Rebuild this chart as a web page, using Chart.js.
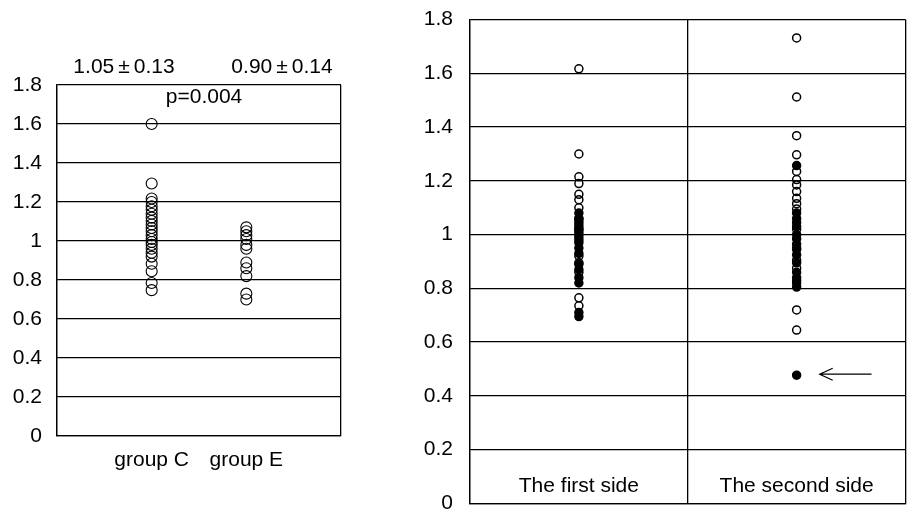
<!DOCTYPE html>
<html lang="en">
<head>
  <meta charset="UTF-8" />
  <title>Ratio scatter</title>
  <script src="https://cdn.jsdelivr.net/npm/chart.js"></script>
  <style>
    body { margin: 0; background: #fff; }
    .wrap { position: relative; width: 907px; height: 509px; overflow: hidden; }
    #left { position: absolute; left: 0; top: 0; }
    #right { position: absolute; left: 380px; top: -10px; }
  </style>
</head>
<body>
  <div class="wrap">
    <canvas id="left" width="360" height="509"></canvas>
    <canvas id="right" width="531" height="543"></canvas>
  </div>
  <script>
    const yTicks = ["0", "0.2", "0.4", "0.6", "0.8", "1", "1.2", "1.4", "1.6", "1.8"];

    // left panel
    const groups = ["group C", "group E"];
    const groupStats = [["1.05", "\u00b1", "0.13"], ["0.90", "\u00b1", "0.14"]];
    const pText = "p=0.004";
    const groupC = [1.6, 1.295, 1.218, 1.2, 1.178, 1.16, 1.14, 1.12, 1.103, 1.085, 1.067, 1.05,
                    1.03, 1.01, 0.995, 0.98, 0.96, 0.94, 0.92, 0.883, 0.845, 0.785, 0.748];
    const groupE = [1.07, 1.05, 1.03, 1.01, 0.98, 0.96, 0.89, 0.86, 0.82, 0.73, 0.70];

    // right panel
    const sides = ["The first side", "The second side"];
    const firstOpen = [1.617, 1.30, 1.215, 1.19, 1.15, 1.13, 1.10, 1.06, 1.02, 0.98, 0.92, 0.895, 0.86, 0.765, 0.735];
    const firstFilled = [1.08, 1.06, 1.05, 1.04, 1.03, 1.02, 1.01, 1.00, 0.99, 0.97, 0.95, 0.93, 0.89, 0.87, 0.84, 0.82, 0.71, 0.695];
    const secondOpen = [1.732, 1.512, 1.368, 1.297, 1.235, 1.205, 1.185, 1.16, 1.135, 1.115, 1.095, 1.02,
                        0.945, 0.905, 0.875, 0.83, 0.72, 0.645];
    const secondFilled = [1.257, 1.08, 1.06, 1.045, 1.03, 1.0, 0.985, 0.965, 0.95, 0.925, 0.895, 0.86, 0.84, 0.82, 0.805, 0.477];
    const arrowValue = 0.477;

    const FONT = { family: "'Liberation Sans', Arial, sans-serif", size: 21 };
    const INK = "#000";

    const pts = (x, arr) => arr.map(v => ({ x: x, y: v }));

    function yAxis(width, pad) {
      return {
        min: 0, max: 1.8,
        afterFit: s => { s.width = width; },
        afterBuildTicks: s => { s.ticks = yTicks.map((t, i) => ({ value: i * 0.2 })); },
        ticks: { padding: pad, color: INK, font: FONT, callback: (v, i) => yTicks[i] },
        grid: { color: INK, lineWidth: 1.3, drawTicks: false },
        border: { display: true, color: INK, width: 1.3 }
      };
    }

    // draws "a ± b" with a little air round the ±, centred on cx
    function spacedText(c, parts, cx, y, gap) {
      const w = parts.map(p => c.measureText(p).width);
      const total = w.reduce((a, b) => a + b, 0) + gap * (parts.length - 1);
      let x = cx - total / 2;
      c.textAlign = "left";
      parts.forEach((p, i) => { c.fillText(p, x, y); x += w[i] + gap; });
    }

    const leftText = {
      id: "leftText",
      afterDraw(chart) {
        const c = chart.ctx;
        c.save();
        c.fillStyle = INK;
        c.font = "21px " + FONT.family;
        c.textBaseline = "alphabetic";
        spacedText(c, groupStats[0], 124, 73, 4);
        spacedText(c, groupStats[1], 282, 73, 4);
        c.textAlign = "center";
        c.fillText(pText, 204, 103);
        c.restore();
      }
    };

    new Chart(document.getElementById("left"), {
      type: "scatter",
      data: {
        datasets: [
          { data: pts(1, groupC), pointRadius: 5.5, borderWidth: 1.1, borderColor: INK, backgroundColor: "transparent" },
          { data: pts(2, groupE), pointRadius: 5.5, borderWidth: 1.1, borderColor: INK, backgroundColor: "transparent" }
        ]
      },
      options: {
        responsive: false, animation: false,
        layout: { padding: { top: 85, right: 19, left: 0, bottom: 0 } },
        plugins: { legend: { display: false }, tooltip: { enabled: false } },
        scales: {
          x: {
            type: "linear", min: 0, max: 3,
            afterFit: s => { s.height = 73; },
            afterBuildTicks: s => { s.ticks = [0, 1, 2, 3].map(v => ({ value: v })); },
            ticks: { padding: 12, color: INK, font: FONT, callback: v => (v === 1 || v === 2) ? groups[v - 1] : "" },
            grid: { color: ctx => (ctx.tick && (ctx.tick.value === 0 || ctx.tick.value === 3)) ? INK : "transparent", lineWidth: 1.3, drawTicks: false },
            border: { display: true, color: INK, width: 1.3 }
          },
          y: yAxis(57, 15)
        }
      },
      plugins: [leftText]
    });

    const rightText = {
      id: "rightText",
      afterDraw(chart) {
        const c = chart.ctx;
        const xs = chart.scales.x, ys = chart.scales.y;
        const base = ys.getPixelForValue(0);
        c.save();
        c.fillStyle = INK;
        c.strokeStyle = INK;
        c.font = "21px " + FONT.family;
        c.textAlign = "center";
        c.textBaseline = "alphabetic";
        c.fillText(sides[0], xs.getPixelForValue(0.5), base - 11);
        c.fillText(sides[1], xs.getPixelForValue(1.5), base - 11);
        // arrow pointing at the low filled point
        const y = ys.getPixelForValue(arrowValue) - 1;
        const x0 = xs.getPixelForValue(1.606), x1 = xs.getPixelForValue(1.844);
        c.lineWidth = 1.2;
        c.beginPath();
        c.moveTo(x1, y); c.lineTo(x0, y);
        c.moveTo(x0 + 13, y - 6); c.lineTo(x0, y); c.lineTo(x0 + 13, y + 6);
        c.stroke();
        c.restore();
      }
    };

    const openStyle = { pointRadius: 4, borderWidth: 1.5, borderColor: INK, backgroundColor: "transparent" };
    const filledStyle = { pointRadius: 4, borderWidth: 1.5, borderColor: INK, backgroundColor: INK };

    new Chart(document.getElementById("right"), {
      type: "scatter",
      data: {
        datasets: [
          Object.assign({ data: pts(0.5, firstOpen) }, openStyle),
          Object.assign({ data: pts(1.5, secondOpen) }, openStyle),
          Object.assign({ data: pts(0.5, firstFilled) }, filledStyle),
          Object.assign({ data: pts(1.5, secondFilled) }, filledStyle)
        ]
      },
      options: {
        responsive: false, animation: false,
        layout: { padding: { top: 0, right: 2, left: 0, bottom: 0 } },
        plugins: { legend: { display: false }, tooltip: { enabled: false } },
        scales: {
          x: {
            type: "linear", min: 0, max: 2,
            afterFit: s => { s.height = 6; },
            afterBuildTicks: s => { s.ticks = [0, 1, 2].map(v => ({ value: v })); },
            ticks: { display: false },
            grid: { color: INK, lineWidth: 1.3, drawTicks: false },
            border: { display: true, color: INK, width: 1.3 }
          },
          y: yAxis(90, 17)
        }
      },
      plugins: [rightText]
    });
  </script>
</body>
</html>
